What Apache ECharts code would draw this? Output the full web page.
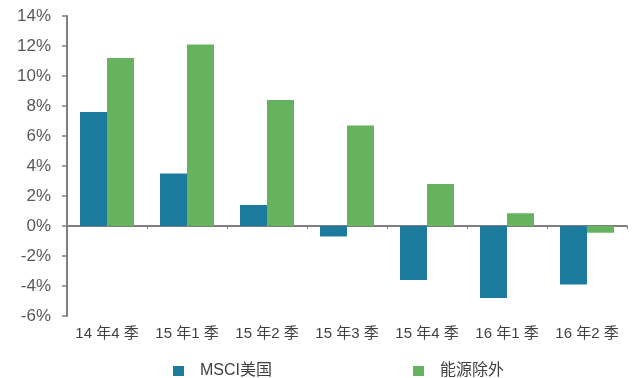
<!DOCTYPE html>
<html>
<head>
<meta charset="utf-8">
<script src="https://cdn.jsdelivr.net/npm/echarts@6/dist/echarts.min.js"></script>
<style>
  html, body { margin: 0; padding: 0; background: #fff; }
  #chart { width: 632px; height: 378px; }
</style>
</head>
<body>
<div id="chart"></div>
<script>
// Quarterly EPS growth: MSCI US vs. ex-energy
const categories = ['14年4季', '15年1季', '15年2季', '15年3季', '15年4季', '16年1季', '16年2季'];
const msciUS = [7.6, 3.5, 1.4, -0.7, -3.6, -4.8, -3.9];
const exEnergy = [11.2, 12.1, 8.4, 6.7, 2.8, 0.85, -0.45];
const seriesNames = ['MSCI美国', '能源除外'];
const yMin = -6, yMax = 14, yStep = 2;

const BLUE = '#1c7b9c';
const GREEN = '#66b35f';
const AXIS = '#7f7f7f';
const FONT = '"Liberation Sans", Arial, "Noto Sans CJK SC", sans-serif';

const chart = echarts.init(document.getElementById('chart'), null, { renderer: 'canvas' });

const legendText = { fontFamily: FONT, fontSize: 16, color: '#404040', padding: [0, 0, 0, 11] };

chart.setOption({
  animation: false,
  grid: { left: 67, right: 5, top: 16, bottom: 62 },
  legend: [
    {
      data: [seriesNames[0]],
      left: 168, top: 358,
      itemWidth: 11, itemHeight: 10,
      icon: 'rect',
      textStyle: legendText
    },
    {
      data: [seriesNames[1]],
      left: 408, top: 358,
      itemWidth: 11, itemHeight: 10,
      icon: 'rect',
      textStyle: legendText
    }
  ],
  xAxis: [
    {
      // zero baseline with boundary ticks
      type: 'category',
      data: categories,
      axisLine: { onZero: true, lineStyle: { color: AXIS, width: 2 } },
      axisTick: { show: true, length: 3, lineStyle: { color: AXIS, width: 1 } },
      axisLabel: { show: false },
      splitLine: { show: false }
    },
    {
      // category labels along the bottom edge
      type: 'category',
      position: 'bottom',
      data: categories,
      axisLine: { show: false, onZero: false },
      axisTick: { show: false },
      axisLabel: {
        interval: 0,
        hideOverlap: false,
        margin: 10,
        fontFamily: FONT, fontSize: 15, color: '#404040',
        formatter: v => v.replace(/(\d)(?=[年季])/g, '$1 ')
      },
      splitLine: { show: false }
    }
  ],
  yAxis: {
    type: 'value',
    min: yMin, max: yMax, interval: yStep,
    axisLine: { show: true, lineStyle: { color: AXIS, width: 2 } },
    axisTick: { show: true, length: 5, lineStyle: { color: AXIS, width: 1.5 } },
    axisLabel: {
      margin: 16,
      fontFamily: FONT, fontSize: 17, color: '#595959',
      formatter: '{value}%'
    },
    splitLine: { show: false }
  },
  series: [
    {
      name: seriesNames[0],
      type: 'bar',
      xAxisIndex: 0,
      data: msciUS,
      barWidth: 27,
      barGap: '0%',
      itemStyle: { color: BLUE }
    },
    {
      name: seriesNames[1],
      type: 'bar',
      xAxisIndex: 0,
      data: exEnergy,
      barWidth: 27,
      barGap: '0%',
      itemStyle: { color: GREEN }
    }
  ]
});
</script>
</body>
</html>
